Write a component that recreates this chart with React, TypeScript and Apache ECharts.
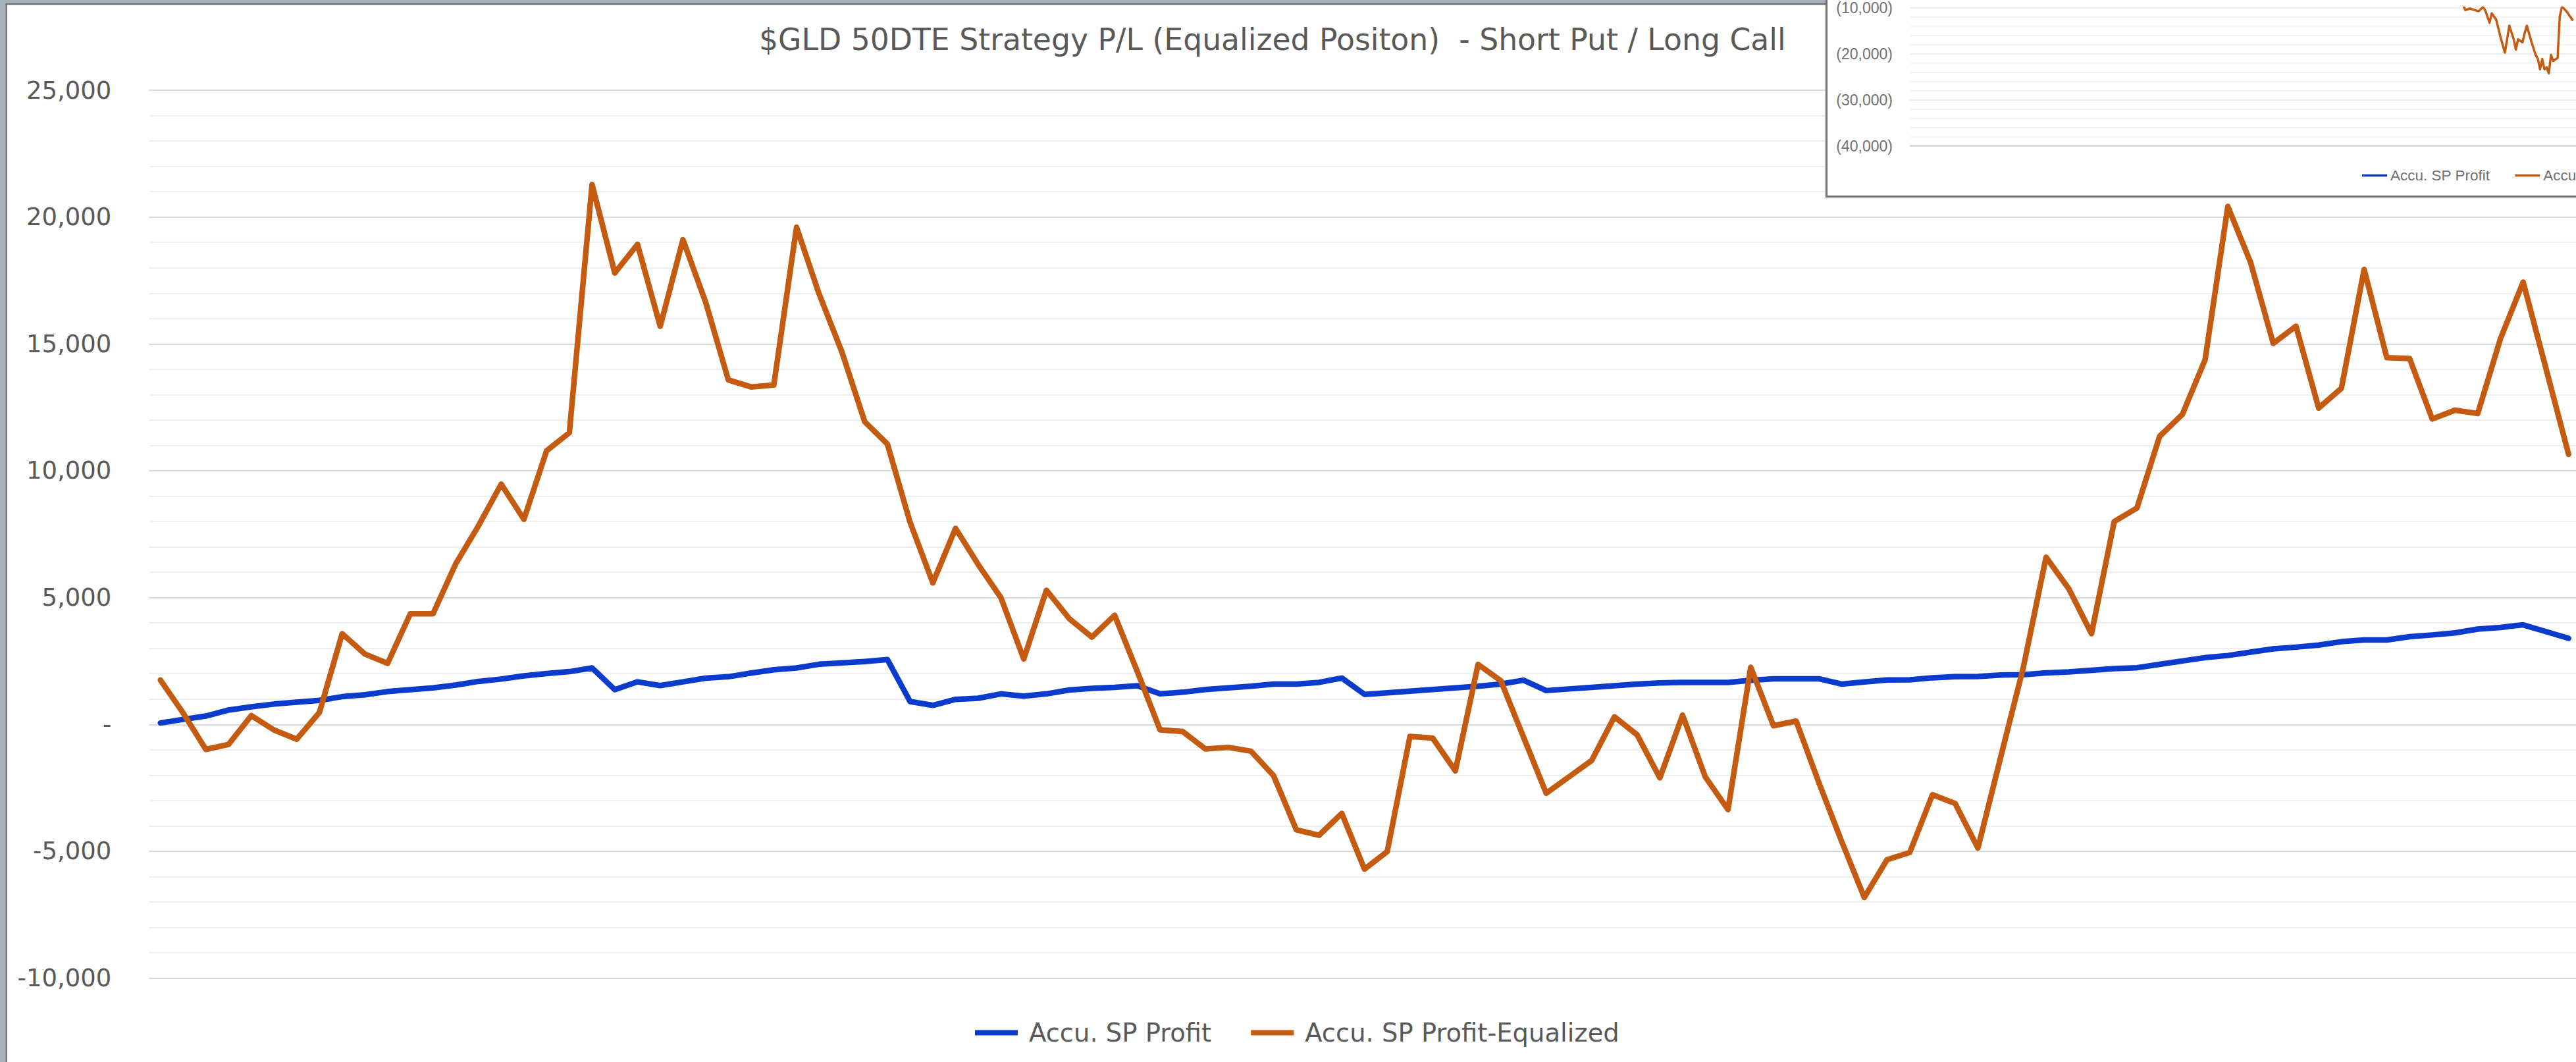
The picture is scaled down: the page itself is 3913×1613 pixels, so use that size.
import React, { useEffect, useRef } from "react";
import * as echarts from "echarts";

const TITLE = "$GLD 50DTE Strategy P/L (Equalized Positon)  - Short Put / Long Call";
const SERIES_NAMES = ["Accu. SP Profit", "Accu. SP Profit-Equalized"];
const BLUE = "#0b3bcc";
const ORANGE = "#c55a11";

// Trade sequence (x categories, no labels shown in the reference)
const categories = Array.from({ length: 107 }, (_, i) => `#${i + 1}`);

// Accu. SP Profit (blue)
const spProfit = [
  55, 200, 330, 566, 694, 803, 876, 949, 1095, 1168,
  1296, 1369, 1442, 1551, 1697, 1789, 1916, 2008, 2081, 2227,
  1369, 1679, 1533, 1679, 1825, 1880, 2026, 2154, 2227, 2373,
  2427, 2482, 2555, 904, 753, 990, 1033, 1205, 1119, 1205,
  1356, 1420, 1463, 1528, 1205, 1270, 1377, 1442, 1506, 1592,
  1592, 1657, 1829, 1184, 1248, 1313, 1377, 1442, 1506, 1592,
  1743, 1334, 1399, 1463, 1528, 1592, 1635, 1656, 1656, 1656,
  1739, 1800, 1800, 1800, 1590, 1675, 1750, 1760, 1840, 1880,
  1890, 1950, 1960, 2030, 2070, 2136, 2202, 2236, 2368, 2501,
  2633, 2716, 2848, 2981, 3047, 3130, 3262, 3329, 3329, 3461,
  3527, 3610, 3759, 3825, 3925, 3660, 3395,
];

// Accu. SP Profit-Equalized (orange)
const spProfitEqualized = [
  1750, 450, -985, -785, 347, -219, -584, 475, 3577, 2774,
  2409, 4362, 4362, 6333, 7829, 9472, 8085, 10786, 11497, 21280,
  17794, 18925, 15695, 19108, 16644, 13578, 13304, 13377, 19600, 16954,
  14673, 11935, 11050, 7960, 5580, 7730, 6300, 4990, 2580, 5290,
  4175, 3443, 4304, 2087, -215, -280, -968, -904, -1054, -2023,
  -4153, -4369, -3508, -5703, -5014, -473, -538, -1829, 2367, 1722,
  -500, -2712, -2066, -1420, 301, -409, -2109, 366, -2066, -3357,
  2252, -50, 130, -2293, -4605, -6820, -5332, -5046, -2770, -3116,
  -4873, -1300, 2250, 6591, 5349, 3577, 7998, 8528, 11360, 12221,
  14374, 20418, 18216, 15020, 15699, 12470, 13248, 17934, 14457, 14424,
  12039, 12387, 12254, 15202, 17437, 14043, 10648,
];

const Y_MIN = -10000;
const Y_MAX = 25000;
const Y_STEP = 5000;

// Inset (pasted small chart, top-right): visible fragment of its orange line
const insetPeriods = [
  252, 253, 255, 259, 261, 262, 264, 265, 267, 269,
  271, 273, 275, 276, 277, 279, 280, 281, 283, 285,
  286, 287, 288, 289, 290, 291, 292, 293, 295, 296,
  297, 299, 302,
];
const insetEqualized = [
  -9500, -10566, -10216, -10795, -9900, -10566, -13261, -11240, -12588, -16415,
  -19784, -13935, -16860, -19111, -16860, -17534, -15512, -13935, -17305, -20229,
  -21132, -23369, -21132, -23369, -22925, -24272, -20229, -21577, -20903, -11914,
  -9800, -10795, -12817,
];
const INSET_Y_MIN = -40000;
const INSET_Y_MAX = -10000;
const INSET_Y_STEP = 10000;

const fmtMain = (v: number) =>
  v === 0 ? "-" : (v < 0 ? "-" : "") + Math.abs(v).toLocaleString("en-US");
const fmtInset = (v: number) =>
  v < 0 ? `(${Math.abs(v).toLocaleString("en-US")})` : v === 0 ? "-" : v.toLocaleString("en-US");

export default function App() {
  const mainRef = useRef<HTMLDivElement>(null);
  const insetRef = useRef<HTMLDivElement>(null);

  useEffect(() => {
    const main = echarts.init(mainRef.current!, null, { renderer: "svg" });
    main.setOption({
      animation: false,
      backgroundColor: "#ffffff",
      title: {
        text: TITLE,
        left: 1153,
        top: 37,
        padding: 0,
        textStyle: {
          fontFamily: "DejaVu Sans",
          fontSize: 45.7,
          fontWeight: "normal",
          color: "#595959",
        },
      },
      legend: {
        left: 1481,
        top: 1549,
        padding: 0,
        icon: "rect",
        itemWidth: 65,
        itemHeight: 8,
        itemGap: 60,
        textStyle: {
          fontFamily: "DejaVu Sans",
          fontSize: 38.5,
          color: "#595959",
          padding: [0, 0, 0, 12],
        },
        data: SERIES_NAMES,
      },
      grid: { left: 226.4, right: 21, top: 137, bottom: 127.4, containLabel: false },
      xAxis: {
        type: "category",
        data: categories,
        boundaryGap: true,
        axisLine: { show: false },
        axisTick: { show: false },
        axisLabel: { show: false },
        splitLine: { show: false },
      },
      yAxis: {
        type: "value",
        min: Y_MIN,
        max: Y_MAX,
        interval: Y_STEP,
        axisLine: { show: false },
        axisTick: { show: false },
        axisLabel: {
          formatter: fmtMain,
          fontFamily: "DejaVu Sans",
          fontSize: 37,
          color: "#595959",
          margin: 57,
        },
        splitLine: { show: true, lineStyle: { color: "#d9d9d9", width: 2 } },
        minorTick: { show: false, splitNumber: 5 },
        minorSplitLine: { show: true, lineStyle: { color: "#efefef", width: 2 } },
      },
      graphic: [
        { type: "rect", silent: true, shape: { x: 0, y: 0, width: 3940, height: 5 }, style: { fill: "#a7b1bd" } },
        { type: "rect", silent: true, shape: { x: 0, y: 0, width: 8.3, height: 1613 }, style: { fill: "#a7b1bd" } },
        { type: "rect", silent: true, shape: { x: 8.3, y: 5, width: 3940, height: 2.4 }, style: { fill: "#737373" } },
        { type: "rect", silent: true, shape: { x: 8.3, y: 5, width: 2.6, height: 1613 }, style: { fill: "#737373" } },
      ],
      series: [
        {
          name: SERIES_NAMES[0],
          type: "line",
          data: spProfit,
          symbol: "none",
          color: BLUE,
          lineStyle: { width: 8.5, color: BLUE, cap: "round", join: "round" },
          z: 2,
        },
        {
          name: SERIES_NAMES[1],
          type: "line",
          data: spProfitEqualized,
          symbol: "none",
          color: ORANGE,
          lineStyle: { width: 8.5, color: ORANGE, cap: "round", join: "round" },
          z: 3,
        },
      ],
    });

    const inset = echarts.init(insetRef.current!, null, { renderer: "svg" });
    inset.setOption({
      animation: false,
      backgroundColor: "#ffffff",
      grid: { left: 128.7, top: -1, width: 1250, bottom: 78.3, containLabel: false },
      xAxis: {
        type: "value",
        min: 0,
        max: 375,
        axisLine: { show: true, onZero: false, lineStyle: { color: "#d4d4d4", width: 2.5 } },
        axisTick: { show: false },
        axisLabel: { show: false },
        splitLine: { show: false },
      },
      yAxis: {
        type: "value",
        min: INSET_Y_MIN,
        max: INSET_Y_MAX,
        interval: INSET_Y_STEP,
        axisLine: { show: false },
        axisTick: { show: false },
        axisLabel: {
          formatter: fmtInset,
          fontFamily: "Liberation Sans",
          fontSize: 23,
          color: "#707070",
          margin: 26.7,
        },
        splitLine: { show: true, lineStyle: { color: "#ededed", width: 2 } },
        minorTick: { show: false, splitNumber: 5 },
        minorSplitLine: { show: true, lineStyle: { color: "#f3f3f3", width: 2 } },
      },
      legend: {
        left: 815,
        top: 255,
        padding: 0,
        icon: "rect",
        itemWidth: 38,
        itemHeight: 3.5,
        itemGap: 38,
        textStyle: { fontFamily: "Liberation Sans", fontSize: 22.5, color: "#707070" },
        data: SERIES_NAMES,
      },
      series: [
        {
          name: SERIES_NAMES[0],
          type: "line",
          data: [],
          symbol: "none",
          color: BLUE,
          lineStyle: { width: 3.5, color: BLUE },
        },
        {
          name: SERIES_NAMES[1],
          type: "line",
          data: insetPeriods.map((t, i) => [t, insetEqualized[i]]),
          symbol: "none",
          color: ORANGE,
          lineStyle: { width: 3.5, color: ORANGE, join: "round" },
        },
      ],
    });

    return () => {
      main.dispose();
      inset.dispose();
    };
  }, []);

  return (
    <div
      style={{
        position: "fixed",
        left: 0,
        top: 0,
        width: 3913,
        height: 1613,
        overflow: "hidden",
        background: "#ffffff",
      }}
    >
      <div ref={mainRef} style={{ position: "absolute", left: 0, top: 0, width: 3940, height: 1613 }} />
      <div
        style={{
          position: "absolute",
          left: 2773,
          top: 0,
          width: 1140,
          height: 300,
          overflow: "hidden",
          background: "#ffffff",
        }}
      >
        <div ref={insetRef} style={{ position: "absolute", left: 0, top: 0, width: 1400, height: 300 }} />
        <div style={{ position: "absolute", left: 0, top: 0, width: 3, height: 300, background: "#6b6b6b" }} />
        <div style={{ position: "absolute", left: 0, top: 297, width: 1140, height: 3, background: "#6b6b6b" }} />
      </div>
    </div>
  );
}
